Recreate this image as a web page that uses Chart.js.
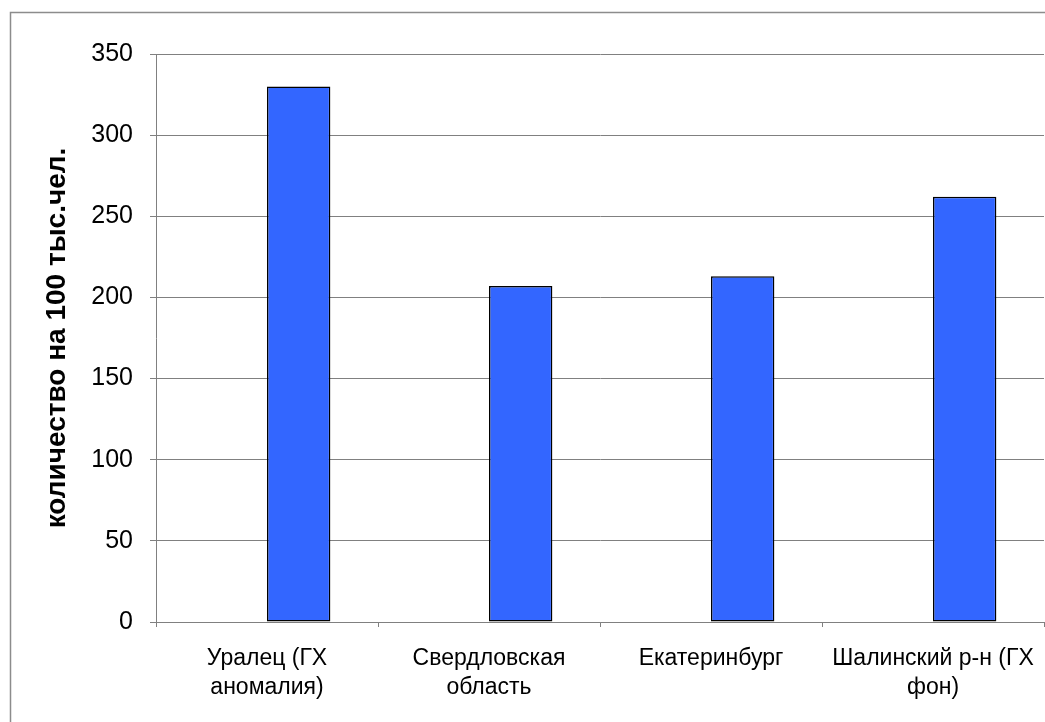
<!DOCTYPE html>
<html>
<head>
<meta charset="utf-8">
<script src="https://cdn.jsdelivr.net/npm/chart.js@4"></script>
<style>
  html, body { margin: 0; padding: 0; background: #fff; }
  #wrap { width: 1045px; height: 722px; position: relative; }
</style>
</head>
<body>
<div id="wrap"><canvas id="myChart" width="1045" height="722"></canvas></div>
<script>
const labels = [
  ['Уралец (ГХ', 'аномалия)'],
  ['Свердловская', 'область'],
  ['Екатеринбург'],
  ['Шалинский р-н (ГХ', 'фон)']
];
// first series is empty in the original, it only takes the left slot
const emptySeries = [null, null, null, null];
const values = [330, 207, 213, 262];
const yTicks = [0, 50, 100, 150, 200, 250, 300, 350];

const gridGrey = '#808080';

// grey frame round the chart (only left and top edges are visible)
const framePlugin = {
  id: 'frame',
  beforeDraw(chart) {
    const c = chart.ctx;
    c.save();
    c.fillStyle = '#fff';
    c.fillRect(0, 0, chart.width, chart.height);
    c.strokeStyle = '#8c8c8c';
    c.lineWidth = 1.5;
    c.beginPath();
    c.moveTo(10.5, chart.height + 5);
    c.lineTo(10.5, 12.5);
    c.lineTo(chart.width + 5, 12.5);
    c.stroke();
    c.restore();
  }
};

const ctx = document.getElementById('myChart');
const myChart = new Chart(ctx, {
  type: 'bar',
  data: {
    labels: labels,
    datasets: [{
      label: 'empty',
      data: emptySeries,
      backgroundColor: '#3366ff'
    }, {
      label: 'количество',
      data: values,
      backgroundColor: '#3366ff',
      borderColor: '#000',
      borderWidth: 1.5,
      borderSkipped: false
    }]
  },
  options: {
    responsive: false,
    animation: false,
    barPercentage: 1,
    categoryPercentage: 0.571,
    layout: {
      padding: { left: 36, top: 54, right: 1, bottom: 0 }
    },
    scales: {
      x: {
        afterFit: (s) => {
          s.height = 100;
          // last label may run past the plot edge, as in the original
          s.paddingLeft = 0;
          s.paddingRight = 0;
        },
        grid: {
          offset: true,
          drawOnChartArea: false,
          drawTicks: true,
          tickLength: 5,
          color: gridGrey
        },
        border: { display: true, color: gridGrey, width: 1 },
        ticks: {
          color: '#000',
          padding: 17,
          maxRotation: 0,
          autoSkip: false,
          font: { family: 'Liberation Sans', size: 23, lineHeight: 1.26 }
        }
      },
      y: {
        min: 0,
        max: 350,
        afterFit: (s) => { s.width = 120; },
        afterBuildTicks: (s) => { s.ticks = yTicks.map(v => ({ value: v })); },
        grid: {
          color: gridGrey,
          lineWidth: 1,
          drawTicks: true,
          tickLength: 6
        },
        border: { display: true, color: gridGrey, width: 1 },
        ticks: {
          color: '#000',
          padding: 17,
          font: { family: 'Liberation Sans', size: 25 }
        },
        title: {
          display: true,
          text: 'количество на 100 тыс.чел.',
          color: '#000',
          padding: 4,
          font: { family: 'Liberation Sans', size: 28, weight: 'bold' }
        }
      }
    },
    plugins: {
      legend: { display: false },
      tooltip: { enabled: false }
    }
  },
  plugins: [framePlugin]
});
</script>
</body>
</html>
